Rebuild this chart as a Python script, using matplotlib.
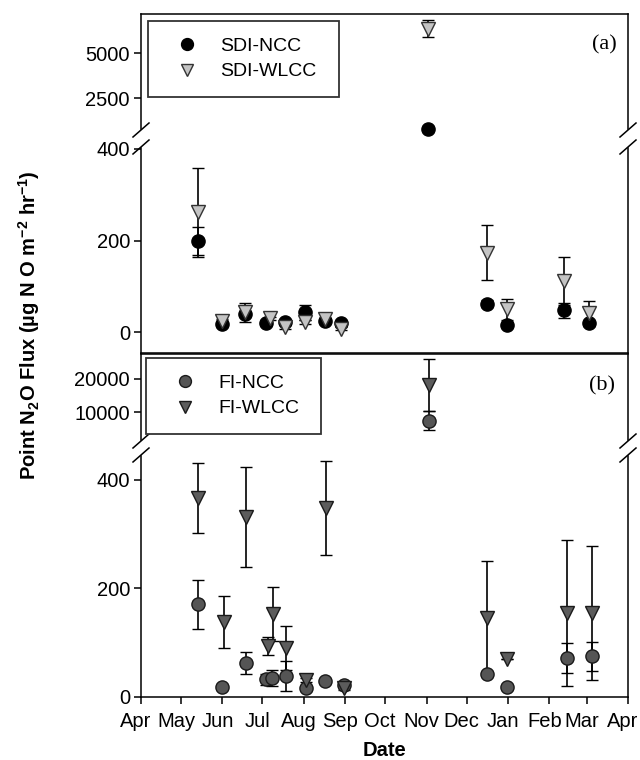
import matplotlib
matplotlib.use("Agg")
import matplotlib.pyplot as plt
import matplotlib.dates as mdates
from matplotlib.lines import Line2D
from matplotlib.transforms import ScaledTranslation
import numpy as np
import datetime as dt

plt.rcParams['font.family'] = ['Liberation Sans', 'DejaVu Sans']
plt.rcParams['mathtext.default'] = 'regular'

# ---------------- data ----------------
sdi_ncc_dates = ["2010-05-14", "2010-06-01", "2010-06-18", "2010-07-04", "2010-07-18", "2010-08-02",
                 "2010-08-17", "2010-08-29", "2010-11-02", "2010-12-16", "2010-12-31", "2011-02-12", "2011-03-03"]
sdi_ncc = [199, 17, 40, 20, 22, 43, 24, 19, 780, 62, 15, 48, 19]
sdi_ncc_err = [30, 4, 4, 4, 4, 17, 4, 4, 0, 8, 4, 16, 4]

sdi_wlcc_dates = ["2010-05-14", "2010-06-01", "2010-06-18", "2010-07-07", "2010-07-18", "2010-08-02",
                  "2010-08-17", "2010-08-29", "2010-11-02", "2010-12-16", "2010-12-31", "2011-02-12", "2011-03-03"]
sdi_wlcc = [262, 25, 43, 30, 12, 22, 28, 8, 6350, 173, 50, 112, 41]
sdi_wlcc_err = [97, 4, 20, 4, 4, 4, 4, 4, 470, 60, 23, 52, 28]

fi_ncc_dates = ["2010-05-14", "2010-06-01", "2010-06-19", "2010-07-04", "2010-07-08", "2010-07-19", "2010-08-03",
                "2010-08-17", "2010-08-31", "2010-11-03", "2010-12-16", "2010-12-31", "2011-02-14", "2011-03-05"]
fi_ncc = [171, 18, 63, 33, 35, 39, 17, 29, 22, 7300, 42, 18, 72, 75]
fi_ncc_err = [45, 4, 20, 10, 15, 28, 4, 4, 4, 2900, 4, 4, 27, 27]

fi_wlcc_dates = ["2010-05-14", "2010-06-02", "2010-06-19", "2010-07-05", "2010-07-09", "2010-07-19", "2010-08-03",
                 "2010-08-18", "2010-08-31", "2010-11-03", "2010-12-16", "2010-12-31", "2011-02-14", "2011-03-05"]
fi_wlcc = [367, 138, 332, 94, 153, 90, 31, 348, 17, 18200, 146, 70, 155, 155]
fi_wlcc_err = [65, 48, 92, 17, 50, 40, 4, 87, 4, 7900, 105, 0, 134, 123]

month_labels = ["Apr", "May", "Jun", "Jul", "Aug", "Sep", "Oct", "Nov", "Dec", "Jan", "Feb", "Mar", "Apr"]

# ---------------- figure ----------------
W, H = 640, 760
fig = plt.figure(figsize=(W / 100, H / 100), dpi=100)

def ax_px(top, bottom, left=141, right=628):
    return fig.add_axes([left / W, 1 - bottom / H, (right - left) / W, (bottom - top) / H])

ax_a_up = ax_px(14, 129)
ax_a_lo = ax_px(148, 353)
ax_b_up = ax_px(354, 440)
ax_b_lo = ax_px(456, 697)

xmin = mdates.date2num(dt.datetime(2010, 4, 1))
xmax = mdates.date2num(dt.datetime(2011, 4, 1))

def to_num(ds):
    return np.array([mdates.date2num(dt.datetime.strptime(d, "%Y-%m-%d")) for d in ds])

def plot_series(ax_up, ax_lo, thresh, dates, vals, errs, marker, fc, ec, label):
    x = to_num(dates)
    v = np.array(vals, float)
    e = np.array(errs, float)
    hi = v > thresh
    handle = None
    for ax, m in ((ax_up, hi), (ax_lo, ~hi)):
        if m.sum() == 0:
            continue
        eb = ax.errorbar(x[m], v[m], yerr=e[m], fmt=marker, ms=9.5, mfc=fc, mec=ec, mew=1.0,
                         ecolor='black', elinewidth=1.2, capsize=4.5, capthick=1.2, label=label)
        clip = ax is ax_lo
        for art in [eb[0]] + list(eb[1]) + list(eb[2]):
            art.set_clip_on(clip)
        handle = eb[0]
    return handle

h1 = plot_series(ax_a_up, ax_a_lo, 400, sdi_ncc_dates, sdi_ncc, sdi_ncc_err, 'o', 'black', 'black', 'SDI-NCC')
h2 = plot_series(ax_a_up, ax_a_lo, 400, sdi_wlcc_dates, sdi_wlcc, sdi_wlcc_err, 'v', '#c4c4c4', '#333333', 'SDI-WLCC')
h3 = plot_series(ax_b_up, ax_b_lo, 450, fi_ncc_dates, fi_ncc, fi_ncc_err, 'o', '#555555', '#1a1a1a', 'FI-NCC')
h4 = plot_series(ax_b_up, ax_b_lo, 450, fi_wlcc_dates, fi_wlcc, fi_wlcc_err, 'v', '#5c5c5c', '#1a1a1a', 'FI-WLCC')

ax_a_up.set_ylim(778, 7167)
ax_a_lo.set_ylim(-45.4, 402)
ax_b_up.set_ylim(1516, 27575)
ax_b_lo.set_ylim(0, 444)

ax_a_up.set_yticks([2500, 5000])
ax_a_lo.set_yticks([0, 200, 400])
ax_b_up.set_yticks([10000, 20000])
ax_b_lo.set_yticks([0, 200, 400])

month_ticks = [mdates.date2num(dt.datetime(2010 + (4 + i - 1) // 12, (4 + i - 1) % 12 + 1, 1)) for i in range(13)]

for ax in (ax_a_up, ax_a_lo, ax_b_up, ax_b_lo):
    ax.set_xlim(xmin, xmax)
    for s in ax.spines.values():
        s.set_linewidth(1.1)
    ax.tick_params(axis='y', direction='out', length=5, width=1.1, labelsize=14.5, pad=3)
    ax.set_xticks(month_ticks)
    ax.tick_params(axis='x', direction='out', length=5, width=1.1, labelsize=14.5, pad=6)
    ax.set_xticklabels([])
    ax.tick_params(axis='x', bottom=False)

ax_a_up.spines['bottom'].set_visible(False)
ax_b_up.spines['bottom'].set_visible(False)
ax_a_lo.spines['top'].set_visible(False)
ax_b_lo.spines['top'].set_visible(False)

ax_b_lo.tick_params(axis='x', bottom=True)
ax_b_lo.set_xticklabels(month_labels)
shift = ScaledTranslation(-5 / 100, 0, fig.dpi_scale_trans)
for lab in ax_b_lo.get_xticklabels():
    lab.set_transform(lab.get_transform() + shift)
ax_b_lo.set_xlabel('Date', fontsize=14.5, fontweight='bold', labelpad=7)

# break marks
def slash(px, py):
    fig.add_artist(Line2D([(px - 8) / W, (px + 8) / W], [1 - (py + 7) / H, 1 - (py - 7) / H],
                          transform=fig.transFigure, color='black', lw=1.1))

for px in (141, 628):
    slash(px, 130)
    slash(px, 147)
    slash(px, 441)
    slash(px, 455)

# y label
fig.text(29 / W, 1 - 325 / H, 'Point N$_2$O Flux (µg N O m$^{-2}$ hr$^{-1}$)', rotation=90,
         ha='center', va='center', fontsize=14.5, fontweight='bold')

# panel letters
fig.text(604 / W, 1 - 45 / H, '(a)', fontsize=16, family='Liberation Serif', ha='center', va='center')
fig.text(602 / W, 1 - 386 / H, '(b)', fontsize=16, family='Liberation Serif', ha='center', va='center')

# legends
def make_legend(handles, labels, left, top, right):
    leg = fig.legend(handles, labels, loc='upper left',
                     bbox_to_anchor=(left / W, 1 - top / H, (right - left) / W, 0.0001),
                     mode='expand', borderaxespad=0, fontsize=14, frameon=True, fancybox=False,
                     edgecolor='#333333', framealpha=1, numpoints=1, handlelength=2.3,
                     handletextpad=0.55, borderpad=0.85, labelspacing=0.4, markerscale=0.9)
    leg.get_frame().set_linewidth(1.3)
    return leg

make_legend([h1, h2], ['SDI-NCC', 'SDI-WLCC'], 148, 21, 339)
make_legend([h3, h4], ['FI-NCC', 'FI-WLCC'], 146, 358, 321)

fig.savefig('out.png', dpi=100)
